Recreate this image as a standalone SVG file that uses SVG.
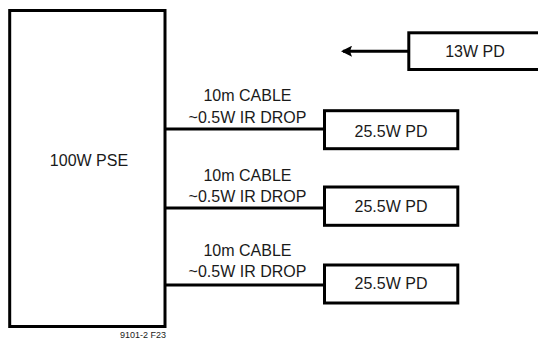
<svg xmlns="http://www.w3.org/2000/svg" width="538" height="341" viewBox="0 0 538 341">
  <style>
    .box { fill: #ffffff; stroke: #000000; stroke-width: 3; }
    .wire { fill: none; stroke: #000000; stroke-width: 3; }
    .lbl { font-family: "Liberation Sans", Arial, sans-serif; font-size: 16px; fill: #1a1a1a; text-anchor: middle; }
    .note { font-family: "Liberation Sans", Arial, sans-serif; font-size: 9px; fill: #1a1a1a; text-anchor: end; }
  </style>
  <defs>
    <marker id="arrow" markerUnits="userSpaceOnUse" markerWidth="12" markerHeight="11" refX="9" refY="5.5" orient="auto">
      <path d="M11,5.5 L0,0 L2,5.5 L0,11 Z" fill="#000000"/>
    </marker>
  </defs>
  <rect width="538" height="341" fill="#ffffff"/>
  <g id="connectors">
    <line class="wire" x1="165" y1="129" x2="324.5" y2="129"/>
    <line class="wire" x1="165" y1="208" x2="324.5" y2="208"/>
    <line class="wire" x1="165" y1="285" x2="324.5" y2="285"/>
    <path class="wire" d="M408.8,51.2 L343,51.2" marker-end="url(#arrow)"/>
  </g>
  <g id="pse">
    <rect class="box" x="9.7" y="10.5" width="155.3" height="316"/>
    <text class="lbl" x="89" y="166">100W PSE</text>
  </g>
  <g id="cable1">
    <text class="lbl" x="247.5" y="101">10m CABLE</text>
    <text class="lbl" x="247.5" y="122.5">~0.5W IR DROP</text>
  </g>
  <g id="cable2">
    <text class="lbl" x="247.5" y="181">10m CABLE</text>
    <text class="lbl" x="247.5" y="201.7">~0.5W IR DROP</text>
  </g>
  <g id="cable3">
    <text class="lbl" x="247.5" y="256">10m CABLE</text>
    <text class="lbl" x="247.5" y="277">~0.5W IR DROP</text>
  </g>
  <g id="pd13">
    <rect class="box" x="408.8" y="32.8" width="140" height="36.7"/>
    <text class="lbl" x="475" y="56.7">13W PD</text>
  </g>
  <g id="pd1">
    <rect class="box" x="324.5" y="110.7" width="133.3" height="38"/>
    <text class="lbl" x="391" y="136.5">25.5W PD</text>
  </g>
  <g id="pd2">
    <rect class="box" x="324.5" y="187" width="133.3" height="38.3"/>
    <text class="lbl" x="391" y="212.3">25.5W PD</text>
  </g>
  <g id="pd3">
    <rect class="box" x="324.5" y="265" width="133.3" height="38"/>
    <text class="lbl" x="391" y="289">25.5W PD</text>
  </g>
  <g id="figlabel">
    <text class="note" x="166" y="338">9101-2 F23</text>
  </g>
</svg>
